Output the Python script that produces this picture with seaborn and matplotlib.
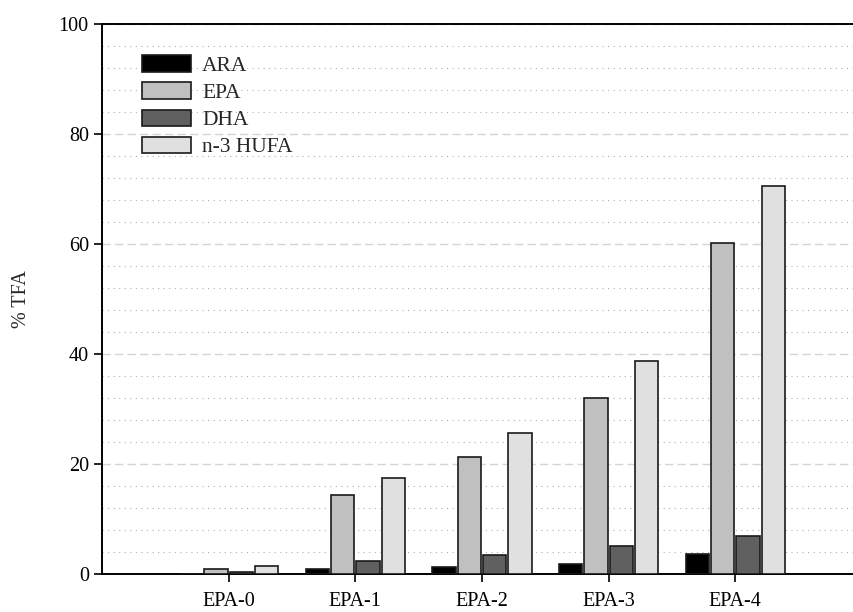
import pandas as pd
import numpy as np
import matplotlib
matplotlib.use("Agg")
import matplotlib.pyplot as plt
from matplotlib.ticker import MultipleLocator
import seaborn as sns

groups = ["EPA-0", "EPA-1", "EPA-2", "EPA-3", "EPA-4"]
fatty_acids = ["ARA", "EPA", "DHA", "n-3 HUFA"]
ara = [0.0, 1.0, 1.3, 1.9, 3.7]
epa = [0.9, 14.3, 21.2, 32.0, 60.2]
dha = [0.4, 2.4, 3.4, 5.1, 6.9]
hufa = [1.5, 17.4, 25.7, 38.8, 70.6]
colors = ["#000000", "#c0c0c0", "#606060", "#e0e0e0"]

df = pd.DataFrame({
    "group": groups * 4,
    "fa": np.repeat(fatty_acids, len(groups)),
    "value": ara + epa + dha + hufa,
})

sns.set_style("white")
plt.rcParams['font.family'] = ['Liberation Serif', 'DejaVu Serif']

fig = plt.figure(figsize=(8.54, 6.12), dpi=100)
ax = fig.add_axes([102 / 854, 38 / 612, 760 / 854, 550 / 612])

sns.barplot(data=df, x="group", y="value", hue="fa", order=groups,
            hue_order=fatty_acids, palette=colors, width=0.8, gap=0.08,
            edgecolor="#1a1a1a", linewidth=1.2, saturation=1, ax=ax, zorder=3)

ax.set_xlim(-1, 5)
ax.set_ylim(0, 100)
ax.yaxis.set_major_locator(MultipleLocator(20))
ax.yaxis.set_minor_locator(MultipleLocator(4))
ax.grid(which="major", axis="y", color="#d4d4d4", linestyle=(0, (6, 3)), linewidth=1, zorder=0)
ax.grid(which="minor", axis="y", color="#b0b0b0", linestyle=(0, (1, 4)), linewidth=0.8, zorder=0)
ax.set_axisbelow(True)

for side in ["left", "bottom", "top"]:
    ax.spines[side].set_visible(True)
    ax.spines[side].set_color("black")
    ax.spines[side].set_linewidth(1.4)
ax.spines["right"].set_visible(False)

ax.tick_params(axis="both", which="major", direction="out", length=6, width=1.2,
               labelsize=14.5, colors="black", left=True, bottom=True)
ax.tick_params(axis="y", which="minor", length=0)
ax.tick_params(axis="x", pad=7)

ax.set_xlabel("")
ax.set_ylabel("% TFA", fontsize=14.5, labelpad=20)

ax.legend(loc="upper left", bbox_to_anchor=(0.041, 0.959), frameon=False,
          fontsize=15.5, handlelength=2.3, handleheight=0.8, labelspacing=0.3,
          handletextpad=0.5, borderaxespad=0)

fig.savefig("out.png", dpi=100)
